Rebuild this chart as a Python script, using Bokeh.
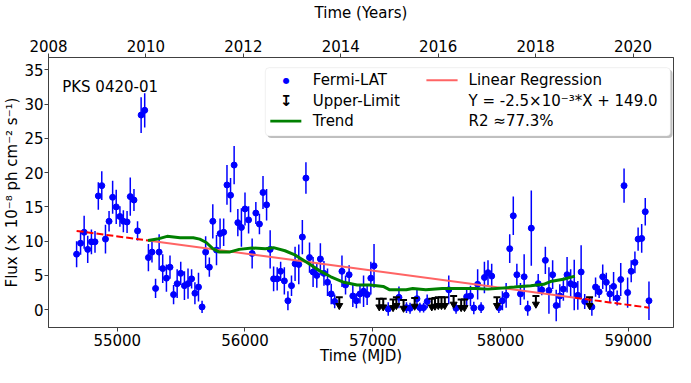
import numpy as np
from bokeh.plotting import figure
from bokeh.models import Range1d, LinearAxis, FixedTicker, Label, BoxAnnotation, ColumnDataSource
from bokeh.embed import file_html
from bokeh.resources import INLINE

# ---------------- data ----------------
MJD = [54682, 54713, 54741, 54769, 54798, 54826, 54852, 54879, 54908, 54936,
       54964, 54992, 55021, 55048, 55077, 55102, 55131, 55159, 55187, 55215,
       55244, 55272, 55300, 55328, 55356, 55385, 55413, 55441, 55469, 55497,
       55526, 55554, 55582, 55608, 55636, 55664, 55692, 55721, 55748, 55777,
       55805, 55833, 55859, 55887, 55915, 55944, 55972, 56000, 56028, 56056,
       56085, 56113, 56141, 56169, 56197, 56224, 56252, 56279, 56308, 56336,
       56364, 56392, 56421, 56449, 56477, 56505, 56533, 56562, 56590, 56618,
       56646, 56675, 56702, 56759, 56787, 56815, 56844, 56872, 56900, 56928,
       56956, 56985, 57010, 57121, 57205, 57264, 57292, 57346, 57369, 57398,
       57426, 57595, 57652, 57735, 57765, 57791, 57821, 57848, 57874, 57902,
       57931, 57987, 58015, 58044, 58072, 58100, 58128, 58156, 58185, 58213,
       58241, 58295, 58323, 58351, 58379, 58408, 58436, 58464, 58492, 58521,
       58549, 58577, 58605, 58631, 58659, 58715, 58744, 58772, 58800, 58828,
       58856, 58885, 58913, 58941, 58967, 58995, 59023, 59052, 59077, 59105,
       59133, 59162]
FLUX = [8.1, 9.7, 11.3, 8.8, 9.9, 9.9, 16.6, 18.1, 10.3, 12.9,
        16.4, 15.0, 13.6, 12.9, 12.8, 16.5, 16.0, 11.5, 28.4, 29.1,
        7.6, 8.4, 3.1, 8.4, 6.0, 4.6, 6.2, 2.2, 3.8, 5.3,
        3.5, 3.8, 4.5, 2.4, 3.3, 0.4, 8.4, 6.2, 12.9, 8.7,
        11.1, 11.3, 18.2, 16.7, 21.1, 12.7, 12.0, 14.7, 13.1, 8.2,
        14.1, 12.5, 17.1, 15.3, 8.8, 4.5, 4.5, 5.6, 4.2, 1.3,
        3.5, 6.7, 6.6, 10.6, 19.2, 7.6, 5.5, 5.0, 7.4, 5.3,
        4.0, 2.3, 1.2, 5.6, 3.6, 5.1, 2.0, 1.3, 2.3, 2.7,
        2.2, 4.6, 6.4, 0.1, 1.8, 0.3, 0.2, 1.6, 0.3, 0.3,
        1.2, 2.9, 0.2, 1.9, 2.0, 0.25, 3.7, 0.3, 4.7, 5.4,
        4.9, 0.3, 1.3, 2.1, 8.9, 13.7, 5.1, 2.3, 4.8, 0.2,
        11.9, 3.8, 2.9, 7.2, 2.8, 5.1, 0.6, 2.0, 3.0, 5.1,
        3.8, 3.6, 2.1, 5.5, 1.2, 0.4, 3.3, 2.6, 4.8, 4.0,
        2.3, 3.4, 1.7, 4.4, 18.1, 2.5, 5.6, 6.9, 10.3, 10.4,
        14.3, 1.3]
FLUX_ERR = [1.9, 1.7, 2.4, 2.0, 1.8, 1.6, 2.0, 2.1, 2.1, 1.5,
            2.4, 2.5, 1.5, 1.6, 1.6, 2.8, 1.6, 1.4, 2.6, 2.5,
            2.0, 1.5, 1.4, 2.6, 2.1, 2.0, 1.7, 1.4, 2.1, 1.7,
            2.1, 2.2, 1.4, 1.6, 2.1, 0.9, 2.3, 1.4, 2.5, 2.2,
            2.2, 2.0, 2.9, 2.5, 2.8, 2.0, 2.8, 2.4, 2.0, 2.2,
            1.6, 1.5, 2.4, 2.3, 2.8, 1.8, 1.7, 1.4, 2.0, 1.4,
            1.5, 2.5, 2.9, 2.5, 2.3, 2.2, 2.2, 1.8, 2.3, 1.8,
            2.0, 1.5, 1.0, 2.3, 1.4, 1.4, 1.6, 1.1, 1.4, 2.3,
            1.5, 2.4, 3.2, 1.0, 1.6, 0.8, 0.8, 1.5, 0.7, 0.7,
            1.0, 2.1, 0.8, 1.3, 1.5, 0.9, 2.2, 0.8, 2.3, 1.8,
            1.8, 0.8, 1.4, 1.8, 2.1, 2.8, 1.6, 1.6, 3.3, 1.1,
            5.5, 1.4, 0.8, 2.0, 3.4, 2.1, 2.3, 1.7, 1.7, 2.6,
            2.1, 3.7, 2.1, 3.9, 1.1, 1.3, 1.4, 0.9, 1.8, 1.4,
            1.3, 2.1, 1.1, 2.4, 2.5, 2.2, 1.6, 1.6, 1.7, 2.1,
            2.0, 2.8]

UL_MJD = [56738, 57051, 57082, 57159, 57185, 57241, 57328, 57462, 57487, 57513,
          57538, 57564, 57633, 57692, 57718, 57972, 58277, 58697]
UL_FLUX = [1.8, 1.6, 1.6, 1.5, 1.8, 1.4, 1.7, 1.6, 1.7, 1.8,
           1.8, 1.8, 2.0, 1.5, 1.5, 1.8, 2.0, 1.8]

TREND_MJD = [55241, 55313, 55390, 55492, 55595, 55646, 55697, 55748, 55800, 55877,
             55954, 56056, 56159, 56223, 56313, 56390, 56492, 56582, 56672, 56774,
             56877, 56979, 57082, 57133, 57262, 57313, 57415, 57544, 57697, 57800,
             57902, 58108, 58236, 58338, 58390, 58492, 58582]
TREND_FLUX = [10.1, 10.3, 10.7, 10.5, 10.5, 10.3, 9.8, 8.9, 8.4, 8.4,
              8.8, 9.0, 8.9, 9.05, 8.6, 8.0, 6.8, 5.7, 4.8, 4.0,
              3.6, 3.6, 3.4, 2.9, 2.9, 3.1, 2.9, 3.1, 3.1, 3.1,
              3.0, 3.3, 3.5, 3.7, 4.1, 4.45, 4.9]

REG_SLOPE = -2.5e-3
REG_INTERCEPT = 148.2

MJD_TICKS = [55000, 56000, 57000, 58000, 59000]
YEAR_TICKS = [2008, 2010, 2012, 2014, 2016, 2018, 2020]
FLUX_TICKS = [0, 5, 10, 15, 20, 25, 30, 35]

SOURCE_NAME = "PKS 0420-01"
LEGEND_LABELS = ["Fermi-LAT", "Upper-Limit", "Trend", "Linear Regression",
                 "Y = -2.5×10⁻³*X + 149.0", "R2  ≈77.3%"]

# ---------------- style ----------------
FONT = "DejaVu Sans"
FS = "15px"
AXIS_COLOR = "#404040"
BLUE = "#0000ff"
GREEN = "#008000"
RED = "#ff0000"
SALMON = "#ff6464"
UL_ARROW = 1.2

p = figure(width=675, height=367,
           x_range=Range1d(54462, 59354), y_range=Range1d(-2.6, 36.8),
           output_backend="svg", toolbar_location=None,
           min_border_left=4, min_border_right=2, min_border_top=4, min_border_bottom=0,
           background_fill_color="white", border_fill_color="white")
p.xgrid.visible = False
p.ygrid.visible = False
p.outline_line_color = AXIS_COLOR
p.outline_line_width = 1

p.extra_x_ranges = {"years": Range1d(2008, 2020.83)}
top_axis = LinearAxis(x_range_name="years", axis_label="Time (Years)")
p.add_layout(top_axis, "above")

bottom_axis = p.below[0]
left_axis = p.left[0]
bottom_axis.ticker = FixedTicker(ticks=MJD_TICKS)
top_axis.ticker = FixedTicker(ticks=YEAR_TICKS)
left_axis.ticker = FixedTicker(ticks=FLUX_TICKS)
bottom_axis.axis_label = "Time (MJD)"
left_axis.axis_label = "Flux (× 10⁻⁸ ph cm⁻² s⁻¹)"

for ax in (bottom_axis, top_axis, left_axis):
    ax.axis_line_color = AXIS_COLOR
    ax.major_tick_line_color = AXIS_COLOR
    ax.minor_tick_line_color = None
    ax.major_tick_in = 0
    ax.major_tick_out = 4
    ax.major_label_text_font = FONT
    ax.major_label_text_font_size = FS
    ax.major_label_text_color = "black"
    ax.major_label_standoff = 2
    ax.axis_label_text_font = FONT
    ax.axis_label_text_font_size = FS
    ax.axis_label_text_font_style = "normal"
    ax.axis_label_text_color = "black"
bottom_axis.axis_label_standoff = -2
top_axis.axis_label_standoff = 15
left_axis.axis_label_standoff = 0
left_axis.major_label_standoff = 1

# ---------------- data marks ----------------
mjd = np.array(MJD, dtype=float)
flux = np.array(FLUX)
err = np.array(FLUX_ERR)
src = ColumnDataSource(dict(mjd=mjd, flux=flux, lo=flux - err, hi=flux + err))
p.segment(x0="mjd", y0="lo", x1="mjd", y1="hi", source=src, line_color=BLUE, line_width=1.5)
p.scatter("mjd", "flux", source=src, size=6, fill_color=BLUE, line_color=BLUE)

ul_x = np.array(UL_MJD, dtype=float)
ul_y = np.array(UL_FLUX)
p.segment(x0=ul_x, y0=ul_y, x1=ul_x, y1=ul_y - UL_ARROW, line_color="black", line_width=2)
p.scatter(ul_x, ul_y, marker="dash", size=7, line_color="black", line_width=2)
p.scatter(ul_x, ul_y - UL_ARROW, marker="inverted_triangle", size=7,
          fill_color="black", line_color="black")

# regression: dashed outside the trend span, solid inside
x_first, x_last = mjd[0], mjd[-1]
t_first, t_last = TREND_MJD[0], TREND_MJD[-1]
for xs in ([x_first, t_first], [t_last, x_last]):
    xs = np.array(xs, dtype=float)
    p.line(xs, REG_SLOPE * xs + REG_INTERCEPT, line_color=RED, line_width=2, line_dash="7 3")
xs = np.array([t_first, t_last], dtype=float)
p.line(xs, REG_SLOPE * xs + REG_INTERCEPT, line_color=SALMON, line_width=2)

p.line(TREND_MJD, TREND_FLUX, line_color=GREEN, line_width=3)

# ---------------- annotations ----------------
p.add_layout(Label(x=54569, y=32.5, text=SOURCE_NAME, text_font=FONT, text_font_size=FS,
                   text_baseline="middle", text_align="left", text_color="black"))

# legend box (shadow + box)
p.add_layout(BoxAnnotation(left=56175, right=59346, top=35.02, bottom=25.05,
                           fill_color="#808080", fill_alpha=0.5, line_alpha=0,
                           border_radius=4, level="annotation"))
p.add_layout(BoxAnnotation(left=56159, right=59330, top=35.32, bottom=25.35,
                           fill_color="white", fill_alpha=1.0, line_color="#cccccc",
                           line_width=1, border_radius=4, level="annotation"))

ROW_Y = [33.49, 30.49, 27.52]
COL1_SAMPLE = 56323
COL1_TEXT = 56531
COL2_SAMPLE = (57420, 57664)
COL2_TEXT = 57750

p.add_layout(Label(x=COL1_SAMPLE, y=ROW_Y[0], text="●", text_font=FONT, text_font_size="8px",
                   text_align="center", text_baseline="middle", text_color=BLUE))
p.add_layout(Label(x=COL1_SAMPLE, y=ROW_Y[1], text="↧", text_font=FONT, text_font_size="15px",
                   text_align="center", text_baseline="middle", text_color="black",
                   text_font_style="bold"))
p.add_layout(BoxAnnotation(left=56198, right=56441, top=ROW_Y[2] + 0.21, bottom=ROW_Y[2] - 0.21,
                           fill_color=GREEN, fill_alpha=1, line_alpha=0))
p.add_layout(BoxAnnotation(left=COL2_SAMPLE[0], right=COL2_SAMPLE[1],
                           top=ROW_Y[0] + 0.15, bottom=ROW_Y[0] - 0.15,
                           fill_color=SALMON, fill_alpha=1, line_alpha=0))

for i in range(3):
    p.add_layout(Label(x=COL1_TEXT, y=ROW_Y[i], text=LEGEND_LABELS[i], text_font=FONT,
                       text_font_size=FS, text_baseline="middle", text_color="black"))
    p.add_layout(Label(x=COL2_TEXT, y=ROW_Y[i], text=LEGEND_LABELS[3 + i], text_font=FONT,
                       text_font_size=FS, text_baseline="middle", text_color="black"))

open("out.html", "w").write(file_html(p, INLINE))
